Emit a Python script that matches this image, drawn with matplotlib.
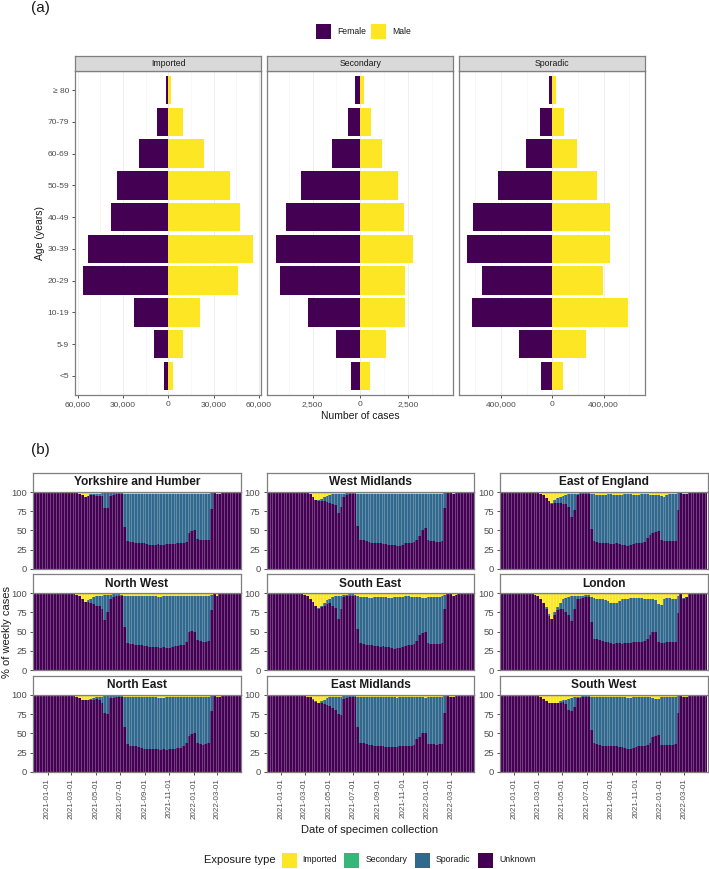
import matplotlib
matplotlib.use('Agg')
import matplotlib.pyplot as plt
import matplotlib.dates as mdates
from matplotlib.patches import Rectangle
import numpy as np
import pandas as pd

plt.rcParams['font.family'] = ['Liberation Sans', 'DejaVu Sans']

W, H = 709, 869
GREY_TXT = '#4D4D4D'
BORDER = '#7F7F7F'
FEMALE, MALE = '#440154', '#FDE725'
EXPOSURE_COLORS = {'Imported': '#FDE725', 'Secondary': '#35B779',
                   'Sporadic': '#31688E', 'Unknown': '#440154'}

# ---------------- (a) age pyramids ----------------
age_groups = ['<5', '5-9', '10-19', '20-29', '30-39', '40-49', '50-59', '60-69', '70-79', '\u2265 80']

imported_female = [2900, 9300, 22700, 56100, 53400, 38200, 34000, 19700, 7700, 1300]
imported_male = [3100, 9700, 21200, 46100, 55800, 47200, 40600, 23400, 9700, 1800]
secondary_female = [470, 1250, 2720, 4180, 4390, 3870, 3090, 1460, 630, 260]
secondary_male = [505, 1360, 2320, 2320, 2770, 2300, 1950, 1150, 560, 175]
sporadic_female = [86000, 260000, 630000, 547000, 664000, 617000, 424000, 208000, 94000, 26000]
sporadic_male = [86000, 266000, 589000, 396000, 451000, 451000, 347000, 190000, 94000, 26500]

# ---------------- (b) weekly exposure shares (%) ----------------
regions = ['Yorkshire and Humber', 'West Midlands', 'East of England',
           'North West', 'South East', 'London',
           'North East', 'East Midlands', 'South West']
weeks = pd.date_range('2020-11-30', periods=74, freq='7D')

imported_pct = {
    'Yorkshire and Humber': [0] * 14 + [0.5, 1, 2, 4, 7, 5, 3, 2, 2, 2, 1, 1, 1, 1, 0.5, 0.5, 0.5, 1]
        + [2, 2, 2, 2, 3, 2, 2, 2, 3, 3, 3, 3, 3, 3, 3, 2, 2, 2, 2, 2, 3, 3, 3, 2, 2, 2, 2, 2, 3, 3, 3]
        + [1, 0, 2, 2] + [0] * 7,
    'North West': [0] * 14 + [1, 2, 4, 7, 11, 9, 7, 5, 4, 3, 3, 2, 2, 2, 1, 1, 1, 2]
        + [3, 3, 3, 4, 4, 4, 3, 3, 4, 4, 4, 4, 5, 5, 4, 4, 4, 3, 3, 3, 4, 4, 4, 3, 3, 3, 3, 4, 4, 4, 3]
        + [2, 0, 3, 1] + [0] * 7,
    'West Midlands': [0] * 13 + [0.5, 1, 3, 6, 11, 11, 9, 7, 5, 4, 3, 3, 2, 2, 2, 1, 1, 1, 1]
        + [2, 2, 2, 3, 3, 2, 2, 2, 2, 3, 3, 3, 3, 2, 2, 2, 3, 3, 3, 3, 2, 2, 2, 2, 2, 3, 3, 3, 2, 2, 2]
        + [1, 0, 1, 2] + [0] * 7,
    'East of England': [0] * 12 + [0.5, 1, 2, 4, 8, 12, 14, 10, 8, 6, 5, 4, 3, 3, 2, 2, 1, 1, 1, 1]
        + [3, 3, 4, 4, 4, 4, 3, 3, 4, 4, 4, 4, 3, 3, 3, 4, 4, 4, 3, 3, 3, 4, 4, 4, 4, 5, 6, 4, 3, 3, 3]
        + [1, 0, 2, 2] + [0] * 7,
    'South East': [0] * 11 + [0.5, 1, 2, 4, 7, 11, 16, 19, 17, 12, 9, 7, 5, 4, 3, 3, 2, 2, 1, 1, 2]
        + [4, 5, 5, 5, 6, 6, 5, 5, 5, 5, 5, 6, 6, 5, 5, 5, 5, 4, 4, 5, 5, 5, 5, 6, 6, 5, 5, 5, 5, 5, 4]
        + [2, 0, 1, 4, 2] + [0] * 6,
    'London': [0] * 10 + [0.5, 1, 2, 4, 7, 12, 18, 27, 33, 24, 18, 12, 8, 6, 5, 4, 4, 3, 3, 3, 2, 2]
        + [5, 6, 7, 7, 8, 9, 10, 12, 13, 12, 10, 8, 7, 7, 6, 6, 6, 6, 6, 7, 7, 8, 8, 9, 14, 15, 8, 6, 6, 7, 8]
        + [3, 1, 6, 5, 1] + [0] * 6,
    'North East': [0] * 14 + [1, 2, 4, 6, 7, 6, 5, 4, 3, 2, 2, 1, 1, 1, 1, 1, 1, 1]
        + [2, 2, 2, 3, 3, 3, 3, 3, 3, 3, 3, 3, 4, 4, 4, 3, 3, 3, 3, 3, 3, 3, 3, 3, 2, 2, 3, 3, 3, 2, 2]
        + [1, 0, 2, 2] + [0] * 7,
    'East Midlands': [0] * 12 + [0.5, 1, 2, 3, 5, 8, 10, 8, 6, 4, 3, 3, 2, 2, 2, 1, 1, 1, 1, 1]
        + [2, 2, 2, 2, 3, 3, 3, 2, 2, 2, 2, 2, 2, 3, 4, 3, 2, 2, 2, 2, 2, 3, 3, 3, 4, 3, 2, 2, 2, 2, 2]
        + [1, 0, 2, 2] + [0] * 7,
    'South West': [0] * 12 + [0.5, 1, 3, 5, 8, 10, 11, 11, 10, 8, 7, 6, 5, 4, 3, 2, 2, 1, 1, 1]
        + [2, 2, 3, 3, 3, 3, 2, 2, 2, 2, 3, 3, 3, 4, 4, 3, 3, 2, 2, 2, 3, 3, 4, 5, 5, 3, 2, 2, 3, 3, 3]
        + [1, 0, 2, 2] + [0] * 7,
}

unknown_pct = {
    'Yorkshire and Humber': [100] * 14 + [99.5, 99, 98, 96, 93, 95, 96, 96, 95, 95, 95, 79, 79, 95, 96, 97, 98, 98]
        + [55, 36, 35, 35, 34, 34, 33, 33, 32, 31, 31, 31, 32, 31, 31, 32, 32, 32, 32, 33, 33, 34, 35, 47, 49, 50, 39, 38, 37, 37, 38]
        + [78, 100, 98, 98] + [100] * 7,
    'North West': [100] * 14 + [99, 98, 96, 93, 89, 89, 88, 86, 84, 83, 80, 65, 75, 93, 95, 96, 97, 97]
        + [56, 35, 34, 34, 33, 33, 32, 31, 31, 30, 30, 30, 30, 29, 30, 29, 29, 30, 31, 31, 32, 33, 36, 49, 51, 50, 39, 38, 37, 37, 38]
        + [78, 100, 97, 99] + [100] * 7,
    'West Midlands': [100] * 13 + [99.5, 99, 97, 94, 89, 88, 88, 88, 87, 86, 85, 83, 72, 80, 94, 96, 97, 98, 98]
        + [56, 38, 37, 36, 35, 34, 34, 33, 33, 32, 32, 31, 31, 31, 30, 30, 31, 33, 33, 34, 35, 38, 43, 50, 53, 37, 36, 36, 35, 35, 36]
        + [79, 100, 99, 98] + [100] * 7,
    'East of England': [100] * 12 + [99.5, 99, 98, 96, 92, 88, 85, 86, 86, 86, 85, 84, 80, 68, 77, 96, 97, 97, 98, 98]
        + [52, 36, 35, 34, 34, 33, 33, 32, 32, 33, 32, 31, 31, 30, 31, 32, 33, 33, 34, 35, 40, 44, 47, 48, 49, 37, 36, 36, 36, 36, 36]
        + [76, 100, 98, 98] + [100] * 7,
    'South East': [100] * 11 + [99.5, 99, 98, 96, 93, 89, 84, 80, 82, 84, 86, 87, 84, 81, 66, 79, 95, 96, 96, 97, 97]
        + [54, 35, 34, 33, 32, 32, 31, 31, 30, 31, 30, 30, 29, 28, 29, 29, 30, 31, 32, 33, 34, 38, 45, 48, 49, 35, 34, 34, 34, 34, 35]
        + [79, 100, 99, 96, 98] + [100] * 6,
    'London': [100] * 10 + [99.5, 99, 98, 96, 93, 88, 80, 70, 66, 72, 78, 80, 79, 75, 72, 64, 80, 92, 93, 94, 95, 95]
        + [62, 41, 40, 39, 38, 37, 36, 35, 34, 35, 35, 34, 35, 35, 35, 36, 36, 37, 37, 38, 40, 46, 50, 49, 36, 35, 35, 36, 36, 36, 36]
        + [74, 99, 93, 95, 99] + [100] * 6,
    'North East': [100] * 14 + [99, 98, 96, 94, 93, 94, 94, 94, 95, 93, 90, 76, 75, 96, 96, 97, 97, 97]
        + [58, 36, 34, 33, 33, 32, 31, 30, 30, 30, 30, 29, 29, 28, 29, 28, 29, 30, 30, 31, 31, 34, 37, 46, 49, 50, 38, 36, 35, 36, 38]
        + [79, 100, 98, 98] + [100] * 7,
    'East Midlands': [100] * 12 + [99.5, 99, 98, 97, 94, 91, 90, 89, 88, 87, 86, 83, 80, 75, 74, 95, 96, 97, 97, 97]
        + [58, 38, 37, 36, 35, 35, 34, 33, 33, 33, 32, 32, 32, 32, 32, 33, 33, 33, 34, 34, 35, 42, 45, 50, 50, 36, 36, 36, 35, 36, 36]
        + [77, 100, 98, 98] + [100] * 7,
    'South West': [100] * 12 + [99.5, 99, 97, 95, 92, 90, 89, 89, 89, 90, 91, 88, 81, 79, 84, 96, 96, 97, 97, 97]
        + [55, 37, 36, 35, 34, 33, 33, 34, 33, 33, 32, 32, 31, 30, 30, 31, 32, 33, 34, 34, 35, 38, 45, 47, 48, 35, 35, 35, 35, 35, 36]
        + [77, 100, 98, 98] + [100] * 7,
}

for r in regions:
    assert len(imported_pct[r]) == len(weeks), r
    assert len(unknown_pct[r]) == len(weeks), r

fig = plt.figure(figsize=(W / 100, H / 100), dpi=100)


def add_ax(x0, y0, x1, y1):
    # pixel box (top-left origin) -> figure axes
    return fig.add_axes([x0 / W, 1 - y1 / H, (x1 - x0) / W, (y1 - y0) / H])


def style_spines(ax, color=BORDER, lw=0.9):
    for s in ax.spines.values():
        s.set_color(color)
        s.set_linewidth(lw)


def strip(x0, y0, x1, y1, label, fc, **txt):
    sax = add_ax(x0, y0, x1, y1)
    sax.set_facecolor(fc)
    sax.set_xticks([])
    sax.set_yticks([])
    style_spines(sax)
    sax.text(0.5, 0.5, label, ha='center', va='center', transform=sax.transAxes, **txt)


def fig_text(x, y, s, **kw):
    fig.text(x / W, 1 - y / H, s, **kw)


def key(x, y, color, label, size, fs):
    fig.add_artist(Rectangle((x / W, 1 - (y + size / 2) / H), size / W, size / H,
                             transform=fig.transFigure, facecolor=color, edgecolor='none'))
    fig_text(x + size + 6, y, label, fontsize=fs, va='center', ha='left', color='#1A1A1A')


# ---- panel (a)
pyramids = [
    ('Imported', imported_female, imported_male, 61500,
     [-60000, -30000, 0, 30000, 60000], [-45000, -15000, 15000, 45000]),
    ('Secondary', secondary_female, secondary_male, 4870,
     [-2500, 0, 2500], [-3750, -1250, 1250, 3750]),
    ('Sporadic', sporadic_female, sporadic_male, 726000,
     [-400000, 0, 400000], [-600000, -200000, 200000, 600000]),
]
pyr_x0 = [75.3, 267.3, 459.3]
pyr_w = 186
ypos = np.arange(len(age_groups))

for k, (name, fem, mal, lim, ticks, minor) in enumerate(pyramids):
    x0 = pyr_x0[k]
    ax = add_ax(x0, 71, x0 + pyr_w, 395)
    ax.barh(ypos, -np.array(fem), height=0.9, color=FEMALE, linewidth=0)
    ax.barh(ypos, mal, height=0.9, color=MALE, linewidth=0)
    ax.set_xlim(-lim, lim)
    ax.set_ylim(-0.6, len(age_groups) - 0.4)
    ax.set_xticks(ticks)
    ax.set_xticklabels([f'{abs(t):,}' for t in ticks])
    ax.set_xticks(minor, minor=True)
    ax.grid(axis='x', which='major', color='#EBEBEB', lw=0.6)
    ax.grid(axis='x', which='minor', color='#F3F3F3', lw=0.4)
    ax.set_axisbelow(True)
    ax.tick_params(axis='x', which='minor', length=0)
    ax.tick_params(axis='both', which='major', labelsize=6, labelcolor=GREY_TXT,
                   color='#333333', length=2.5, width=0.6, pad=2)
    if k == 0:
        ax.set_yticks(ypos)
        ax.set_yticklabels(age_groups)
    else:
        ax.set_yticks([])
    style_spines(ax)
    strip(x0, 56, x0 + pyr_w, 71, name, '#D9D9D9', fontsize=6.3, color='#1A1A1A')

fig_text(31, 8, '(a)', fontsize=11, va='center', ha='left', color='#1A1A1A')
fig_text(360, 416, 'Number of cases', fontsize=7.5, ha='center', va='center', color='#1A1A1A')
fig_text(40, 233, 'Age (years)', fontsize=7.5, ha='center', va='center', rotation=90, color='#1A1A1A')
key(316, 31.5, FEMALE, 'Female', 15, 6.2)
key(371, 31.5, MALE, 'Male', 15, 6.2)

# ---- panel (b)
xnum = mdates.date2num(weeks)
col_x0 = [33.3, 266.7, 500.0]
row_y0 = [492.0, 593.3, 695.0]
panel_w, panel_h, strip_h = 207.5, 76.7, 19.3
tick_dates = pd.to_datetime(['2021-01-01', '2021-03-01', '2021-05-01', '2021-07-01',
                             '2021-09-01', '2021-11-01', '2022-01-01', '2022-03-01'])

for idx, region in enumerate(regions):
    r, c = divmod(idx, 3)
    x0, y0 = col_x0[c], row_y0[r]
    ax = add_ax(x0, y0, x0 + panel_w, y0 + panel_h)
    imp = np.array(imported_pct[region], dtype=float)
    unk = np.array(unknown_pct[region], dtype=float)
    spo = 100 - imp - unk
    ax.bar(xnum, unk, width=7, color=EXPOSURE_COLORS['Unknown'], linewidth=0)
    ax.bar(xnum, spo, bottom=unk, width=7, color=EXPOSURE_COLORS['Sporadic'], linewidth=0)
    ax.bar(xnum, imp, bottom=unk + spo, width=7, color=EXPOSURE_COLORS['Imported'], linewidth=0)
    # thin light gaps between weekly bars
    ax.vlines(xnum[:-1] + 3.5, 0, 100, color='white', lw=0.4, alpha=0.45)
    ax.set_xlim(xnum[0] - 3.5, xnum[-1] + 3.5)
    ax.set_ylim(0, 100)
    ax.set_yticks([0, 25, 50, 75, 100])
    ax.set_xticks(mdates.date2num(tick_dates))
    if r == 2:
        ax.set_xticklabels([d.strftime('%Y-%m-%d') for d in tick_dates], rotation=90)
        ax.tick_params(axis='x', length=2.5)
    else:
        ax.set_xticklabels([])
        ax.tick_params(axis='x', length=0)
    ax.tick_params(axis='both', labelsize=6.8, labelcolor=GREY_TXT, color='#333333',
                   width=0.6, pad=2)
    ax.tick_params(axis='y', length=2.5)
    ax.tick_params(axis='x', labelsize=5.8)
    style_spines(ax)
    strip(x0, y0 - strip_h, x0 + panel_w, y0, region, 'white',
          fontsize=8.6, fontweight='bold', color='#1A1A1A')

fig_text(31, 450, '(b)', fontsize=11, va='center', ha='left', color='#1A1A1A')
fig_text(7, 632, '% of weekly cases', fontsize=8, ha='center', va='center', rotation=90, color='#1A1A1A')
fig_text(370, 830, 'Date of specimen collection', fontsize=8, ha='center', va='center', color='#1A1A1A')
fig_text(204, 860, 'Exposure type', fontsize=8, ha='left', va='center', color='#1A1A1A')
for xk, lab in zip([281.7, 344.3, 415.0, 478.3], ['Imported', 'Secondary', 'Sporadic', 'Unknown']):
    key(xk, 860, EXPOSURE_COLORS[lab], lab, 15, 6.3)

fig.savefig('out.png', dpi=100)
